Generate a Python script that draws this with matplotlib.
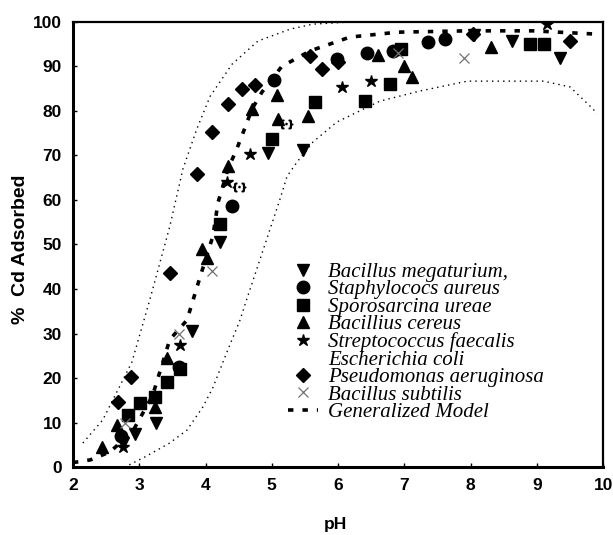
import matplotlib
matplotlib.use("Agg")
import matplotlib.pyplot as plt
from matplotlib.lines import Line2D

# Cd adsorption (%) versus pH for several bacteria
mega_ph = [2.75, 2.94, 3.25, 3.80, 4.22, 4.94, 5.47, 8.05, 8.63, 9.35]
mega_cd = [5.5, 7.5, 10.0, 30.5, 50.5, 70.5, 71.3, 97.0, 95.7, 91.8]

aureus_ph = [2.72, 3.60, 4.40, 5.03, 5.98, 6.43, 6.83, 7.36, 7.61]
aureus_cd = [7.0, 22.5, 58.6, 87.0, 91.7, 93.0, 93.5, 95.5, 96.2]

ureae_ph = [2.83, 3.01, 3.24, 3.42, 3.62, 4.22, 5.00, 5.65, 6.40, 6.79, 6.95, 8.90, 9.10]
ureae_cd = [11.7, 14.5, 15.8, 19.2, 22.0, 54.5, 73.8, 82.0, 82.2, 86.0, 94.0, 95.0, 95.0]

cereus_ph = [2.44, 2.66, 3.24, 3.42, 3.95, 4.02, 4.34, 4.70, 5.08, 5.10, 5.55, 6.60, 7.00, 7.12, 8.30]
cereus_cd = [4.6, 9.5, 13.5, 24.5, 49.0, 47.0, 67.6, 80.5, 83.5, 78.3, 78.8, 92.5, 90.0, 87.6, 94.4]

faecalis_ph = [2.76, 3.62, 4.32, 4.67, 6.06, 6.50, 9.15]
faecalis_cd = [4.5, 27.5, 64.0, 70.3, 85.4, 86.7, 99.5]

coli_ph = [4.50, 5.22]
coli_cd = [63.0, 77.0]

pseudo_ph = [2.68, 2.88, 3.46, 3.87, 4.10, 4.34, 4.55, 4.75, 5.58, 5.76, 6.00, 8.04, 9.50]
pseudo_cd = [14.6, 20.3, 43.7, 65.8, 75.2, 81.5, 85.0, 85.8, 92.3, 89.5, 91.0, 97.3, 95.7]

subtilis_ph = [2.78, 3.60, 4.10, 6.90, 7.90]
subtilis_cd = [10.0, 30.0, 44.0, 93.0, 92.0]

# generalized model and its upper / lower bounds
model_ph = [2.0, 2.26, 2.56, 2.9, 3.2, 3.46, 3.72, 3.92, 4.11, 4.19, 4.34, 4.47,
            4.60, 4.70, 4.85, 5.15, 5.58, 6.18, 6.90, 7.95, 8.94, 9.85]
model_cd = [1.0, 1.6, 3.4, 8.0, 16.0, 28.6, 33.0, 42.8, 51.8, 59.5, 67.0, 71.4,
            76.4, 80.4, 84.2, 90.0, 93.5, 96.6, 97.7, 98.0, 98.0, 97.3]

upper_ph = [2.15, 2.45, 2.89, 3.16, 3.46, 3.66, 3.87, 4.07, 4.40, 4.79, 5.28, 5.62, 6.2, 7.5, 9.0]
upper_cd = [5.4, 10.6, 23.6, 37.6, 54.0, 67.0, 76.0, 83.3, 90.5, 95.7, 98.4, 99.5, 100.0, 100.0, 100.0]

lower_ph = [2.85, 3.09, 3.46, 3.72, 3.96, 4.11, 4.32, 4.52, 4.62, 5.12, 5.23, 5.38,
            5.62, 5.98, 6.63, 7.24, 7.95, 9.10, 9.50, 9.85, 9.90]
lower_cd = [0.5, 2.3, 5.4, 8.3, 13.5, 17.8, 25.7, 33.0, 37.6, 60.0, 65.3, 68.5,
            73.0, 77.5, 82.2, 84.5, 86.7, 86.7, 85.4, 80.4, 79.3]

labels = ["Bacillus megaturium,", "Staphylococs aureus", "Sporosarcina ureae",
          "Bacillius cereus", "Streptococcus faecalis", "Escherichia coli",
          "Pseudomonas aeruginosa", "Bacillus subtilis", "Generalized Model"]

fig = plt.figure(figsize=(6.13, 5.35), dpi=100)
ax = fig.add_axes([0.119, 0.127, 0.865, 0.832])

ax.plot(upper_ph, upper_cd, color="black", lw=1.0, ls=(0, (1, 3)))
ax.plot(lower_ph, lower_cd, color="black", lw=1.0, ls=(0, (1, 3)))
ax.plot(model_ph, model_cd, color="black", lw=2.6, ls=(0, (1.5, 2.5)))

ax.plot(mega_ph, mega_cd, marker="v", color="black", ms=9, ls="none")
ax.plot(aureus_ph, aureus_cd, marker="o", color="black", ms=9, ls="none")
ax.plot(ureae_ph, ureae_cd, marker="s", color="black", ms=8.5, ls="none")
ax.plot(cereus_ph, cereus_cd, marker="^", color="black", ms=9, ls="none")
ax.plot(faecalis_ph, faecalis_cd, marker="*", color="black", ms=9, ls="none")
ax.plot(coli_ph, coli_cd, marker=r"$\{\cdot\}$", color="black", ms=9, ls="none")
ax.plot(pseudo_ph, pseudo_cd, marker="D", color="black", ms=7.5, ls="none")
ax.plot(subtilis_ph, subtilis_cd, marker="x", color="0.45", ms=7, mew=0.9, ls="none")

# legend built by hand so E. coli shows without a symbol
handles = [
    Line2D([], [], marker="v", color="black", ms=9, ls="none"),
    Line2D([], [], marker="o", color="black", ms=9, ls="none"),
    Line2D([], [], marker="s", color="black", ms=8.5, ls="none"),
    Line2D([], [], marker="^", color="black", ms=9, ls="none"),
    Line2D([], [], marker="*", color="black", ms=9, ls="none"),
    Line2D([], [], ls="none"),
    Line2D([], [], marker="D", color="black", ms=7.5, ls="none"),
    Line2D([], [], marker="x", color="0.45", ms=7, mew=0.9, ls="none"),
    Line2D([], [], color="black", lw=2.6, ls=(0, (1.5, 2.5))),
]
ax.legend(handles, labels, loc="upper left", bbox_to_anchor=(5.245, 46.0),
          bbox_transform=ax.transData, frameon=False, borderpad=0,
          borderaxespad=0, labelspacing=-0.1, handlelength=1.44,
          handletextpad=0.48,
          prop={"family": "Liberation Serif", "style": "italic", "size": 15})

ax.set_xlim(2, 10)
ax.set_ylim(0, 100)
ax.set_xticks(range(2, 11))
ax.set_yticks(range(0, 101, 10))
ax.tick_params(direction="in", length=3, width=1, pad=8)
for lab in ax.get_xticklabels() + ax.get_yticklabels():
    lab.set_fontfamily("Liberation Sans")
    lab.set_fontweight("bold")
    lab.set_fontsize(12.5)

ax.spines["left"].set_linewidth(2.2)
ax.spines["bottom"].set_linewidth(2.2)
ax.spines["top"].set_linewidth(1.6)
ax.spines["right"].set_linewidth(1.6)

ax.set_xlabel("pH", fontfamily="Liberation Sans", fontweight="bold", fontsize=12.5)
ax.set_ylabel("%  Cd Adsorbed", fontfamily="Liberation Sans", fontweight="bold", fontsize=14)
ax.xaxis.set_label_coords(0.495, -0.112)
ax.yaxis.set_label_coords(-0.083, 0.49)

fig.savefig("out.png", dpi=100)
